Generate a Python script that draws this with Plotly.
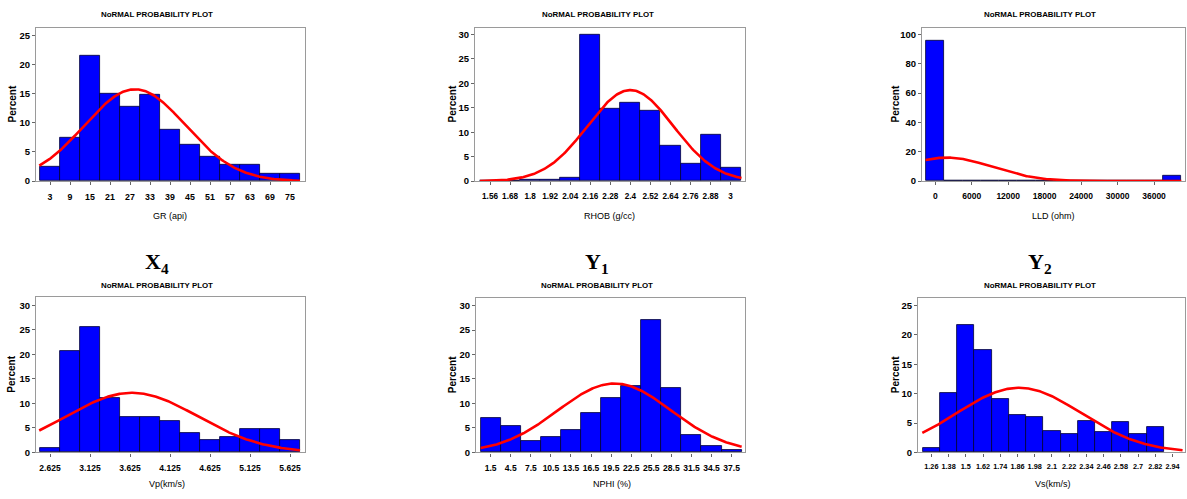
import numpy as np
import plotly.graph_objects as go

W, H = 1187, 499

# ---- histogram data (percent per bin) ----
gr_centers = [3, 9, 15, 21, 27, 33, 39, 45, 51, 57, 63, 69, 75]
gr_pct = [2.4, 7.5, 21.5, 15.0, 12.7, 14.9, 8.9, 6.2, 4.2, 2.9, 2.9, 1.3, 1.2]

rhob_centers = [1.56, 1.68, 1.80, 1.92, 2.04, 2.16, 2.28, 2.40, 2.52, 2.64, 2.76, 2.88, 3.00]
rhob_pct = [0.0, 0.1, 0.2, 0.2, 0.75, 30.0, 14.8, 16.0, 14.35, 7.35, 3.6, 9.6, 2.8]

lld_centers = [0, 3000, 6000, 9000, 12000, 15000, 18000, 21000, 24000, 27000, 30000, 33000, 36000, 39000]
lld_pct = [95.5, 0.4, 0, 0, 0, 0, 0, 0, 0, 0, 0, 0, 0, 3.6]

vp_centers = [2.625, 2.875, 3.125, 3.375, 3.625, 3.875, 4.125, 4.375, 4.625, 4.875, 5.125, 5.375, 5.625]
vp_pct = [0.9, 20.6, 25.5, 11.2, 7.2, 7.2, 6.4, 4.0, 2.6, 3.2, 4.8, 4.8, 2.5]

nphi_centers = [1.5, 4.5, 7.5, 10.5, 13.5, 16.5, 19.5, 22.5, 25.5, 28.5, 31.5, 34.5, 37.5]
nphi_pct = [7.1, 5.3, 2.3, 3.1, 4.6, 8.1, 11.1, 13.5, 27.1, 13.1, 3.6, 1.3, 0.6]

vs_centers = [1.26, 1.38, 1.50, 1.62, 1.74, 1.86, 1.98, 2.10, 2.22, 2.34, 2.46, 2.58, 2.70, 2.82]
vs_pct = [0.7, 10.2, 21.7, 17.5, 9.1, 6.4, 6.1, 3.7, 3.2, 5.3, 3.4, 5.1, 3.2, 4.4]

# ---- fitted normal parameters (mean, std) ----
gr_fit = (28.5, 15.2)
rhob_fit = (2.40, 0.257)
lld_fit = (1900.0, 7450.0)
vp_fit = (3.65, 0.82)
nphi_fit = (20.0, 8.5)
vs_fit = (1.87, 0.435)

# ---- tick labels ----
gr_ticks = gr_centers
rhob_ticks = rhob_centers
rhob_ticktext = ["1.56", "1.68", "1.8", "1.92", "2.04", "2.16", "2.28", "2.4", "2.52", "2.64", "2.76", "2.88", "3"]
lld_ticks = [0, 6000, 12000, 18000, 24000, 30000, 36000]
vp_ticks = [2.625, 3.125, 3.625, 4.125, 4.625, 5.125, 5.625]
nphi_ticks = nphi_centers
vs_ticks = [1.26, 1.38, 1.50, 1.62, 1.74, 1.86, 1.98, 2.10, 2.22, 2.34, 2.46, 2.58, 2.70, 2.82, 2.94]
vs_ticktext = ["1.26", "1.38", "1.5", "1.62", "1.74", "1.86", "1.98", "2.1", "2.22", "2.34", "2.46", "2.58", "2.7", "2.82", "2.94"]

panels = [
    dict(c=gr_centers, p=gr_pct, w=6, fit=gr_fit, curve=(-0.2, 78.0),
         xr=(-1.2, 79.5), yr=(0, 26.3), xt=gr_ticks, xtt=None, yt=[0, 5, 10, 15, 20, 25],
         px=(36, 305), py=(28, 183), xlabel="GR (api)", xl=(170, 218), tsize=8.8),
    dict(c=rhob_centers, p=rhob_pct, w=0.12, fit=rhob_fit, curve=(1.50, 3.065),
         xr=(1.47, 3.086), yr=(0, 31.4), xt=rhob_ticks, xtt=rhob_ticktext, yt=[0, 5, 10, 15, 20, 25, 30],
         px=(475, 745), py=(28, 183), xlabel="RHOB (g/cc)", xl=(610, 218), tsize=8.2),
    dict(c=lld_centers, p=lld_pct, w=3000, fit=lld_fit, curve=(-1600, 40500),
         xr=(-2190, 41100), yr=(0, 104.5), xt=lld_ticks, xtt=None, yt=[0, 20, 40, 60, 80, 100],
         px=(922, 1185), py=(28, 183), xlabel="LLD (ohm)", xl=(1053, 218), tsize=8.5),
    dict(c=vp_centers, p=vp_pct, w=0.25, fit=vp_fit, curve=(2.49, 5.75),
         xr=(2.45, 5.8125), yr=(0, 31.7), xt=vp_ticks, xtt=None, yt=[0, 5, 10, 15, 20, 25, 30],
         px=(36, 305), py=(300, 457), xlabel="Vp(km/s)", xl=(167, 489), tsize=8.5),
    dict(c=nphi_centers, p=nphi_pct, w=3, fit=nphi_fit, curve=(0.0, 39.0),
         xr=(-0.69, 39.5), yr=(0, 31.55), xt=nphi_ticks, xtt=None, yt=[0, 5, 10, 15, 20, 25, 30],
         px=(476, 745), py=(301, 457), xlabel="NPHI (%)", xl=(612, 489), tsize=8.5),
    dict(c=vs_centers, p=vs_pct, w=0.12, fit=vs_fit, curve=(1.197, 3.01),
         xr=(1.167, 3.027), yr=(0, 26.3), xt=vs_ticks, xtt=vs_ticktext, yt=[0, 5, 10, 15, 20, 25],
         px=(918, 1185), py=(301, 457), xlabel="Vs(km/s)", xl=(1053, 489), tsize=7.3),
]

SANS = "Liberation Sans, Arial, sans-serif"
label_font = dict(family=SANS, size=9, color="#000")
title_font = dict(family=SANS, size=7.9, color="#000", weight="bold")

fig = go.Figure()
layout = dict(width=W, height=H, margin=dict(l=0, r=0, t=0, b=0),
              paper_bgcolor="white", plot_bgcolor="white", showlegend=False,
              annotations=[])

for i, pn in enumerate(panels, start=1):
    xa = "x" if i == 1 else f"x{i}"
    ya = "y" if i == 1 else f"y{i}"
    fig.add_trace(go.Bar(x=pn["c"], y=pn["p"], width=pn["w"], xaxis=xa, yaxis=ya,
                         marker=dict(color="#0000FF", line=dict(color="#000033", width=0.8))))
    mu, sd = pn["fit"]
    xs = np.linspace(pn["curve"][0], pn["curve"][1], 300)
    ys = 100.0 * pn["w"] / (sd * np.sqrt(2 * np.pi)) * np.exp(-0.5 * ((xs - mu) / sd) ** 2)
    fig.add_trace(go.Scatter(x=xs, y=ys, mode="lines", xaxis=xa, yaxis=ya,
                             line=dict(color="#FF0000", width=2.6)))

    x0, x1 = pn["px"]
    y0, y1 = pn["py"]
    xkey = "xaxis" if i == 1 else f"xaxis{i}"
    ykey = "yaxis" if i == 1 else f"yaxis{i}"
    xaxis = dict(domain=[x0 / W, x1 / W], range=list(pn["xr"]), anchor=ya,
                 tickmode="array", tickvals=pn["xt"], tickangle=0,
                 showgrid=False, zeroline=False,
                 showline=True, mirror=True, linecolor="#9a9a9a", linewidth=1.2,
                 ticks="outside", ticklen=3, tickcolor="#666", ticklabelstandoff=4,
                 tickfont=dict(family=SANS, size=pn["tsize"], color="#000", weight="bold"))
    if pn["xtt"] is not None:
        xaxis["ticktext"] = pn["xtt"]
    else:
        xaxis["ticktext"] = [f"{v:g}" for v in pn["xt"]]
    layout[xkey] = xaxis
    layout[ykey] = dict(domain=[1 - y1 / H, 1 - y0 / H], range=list(pn["yr"]), anchor=xa,
                        tickmode="array", tickvals=pn["yt"], showgrid=False, zeroline=False,
                        showline=True, mirror=True, linecolor="#9a9a9a", linewidth=1.2,
                        ticks="outside", ticklen=3, tickcolor="#666",
                        tickfont=dict(family=SANS, size=9.5, color="#000", weight="bold"))
    # x-axis label
    layout["annotations"].append(dict(text=pn["xlabel"], x=pn["xl"][0] / W, y=1 - pn["xl"][1] / H,
                                      xref="paper", yref="paper", showarrow=False,
                                      xanchor="center", yanchor="middle", font=label_font))
    # y-axis label
    ylab_x = {36: 12, 475: 452, 476: 452, 922: 895, 918: 895}[x0]
    layout["annotations"].append(dict(text="<b>Percent</b>", x=ylab_x / W, y=1 - ((y0 + y1) / 2) / H,
                                      xref="paper", yref="paper", showarrow=False, textangle=-90,
                                      xanchor="center", yanchor="middle",
                                      font=dict(family=SANS, size=10, color="#000")))

# panel titles
title_pos = [(157, 15), (598, 15), (1040, 15), (157, 288), (597, 288), (1040, 288)]
for tx, ty in title_pos:
    layout["annotations"].append(dict(text="NoRMAL PROBABILITY PLOT", x=tx / W, y=1 - ty / H,
                                      xref="paper", yref="paper", showarrow=False,
                                      xanchor="center", yanchor="middle", font=title_font))

# variable labels above the lower row
var_labels = [("X<sub>4</sub>", 157), ("Y<sub>1</sub>", 597), ("Y<sub>2</sub>", 1040)]
for txt, tx in var_labels:
    layout["annotations"].append(dict(text=f"<b>{txt}</b>", x=tx / W, y=1 - 266 / H,
                                      xref="paper", yref="paper", showarrow=False,
                                      xanchor="center", yanchor="middle",
                                      font=dict(family="Liberation Serif, Times New Roman, serif",
                                                size=22, color="#000")))

layout["bargap"] = 0
fig.update_layout(**layout)
fig.write_html("out.html")
